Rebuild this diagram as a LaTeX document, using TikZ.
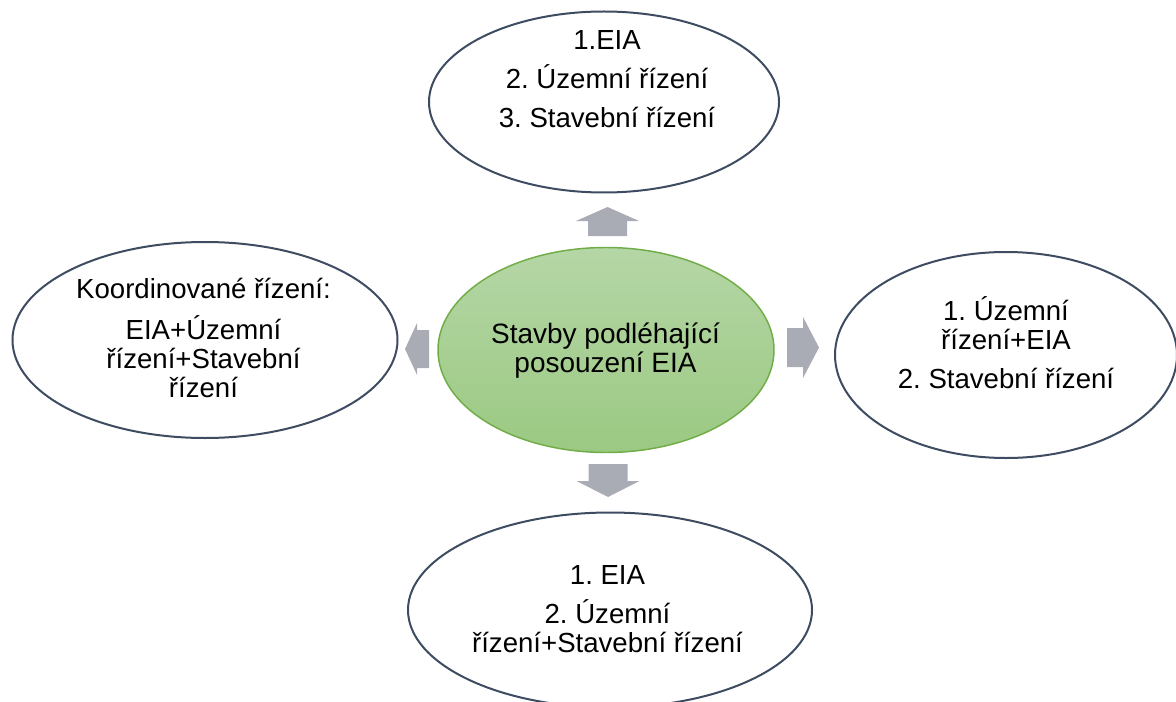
\documentclass[tikz,border=0pt]{standalone}
\usepackage{fontspec}
\setmainfont{Liberation Sans}
\frenchspacing
\usetikzlibrary{shapes.geometric}
\definecolor{ringblue}{HTML}{3E4C61}
\definecolor{hubgreen}{HTML}{70AD47}
\definecolor{hubtop}{HTML}{B5D6A6}
\definecolor{hubbottom}{HTML}{9BC982}
\definecolor{blockgray}{HTML}{A9ACB4}
\tikzset{
    ring/.style={ellipse, draw=ringblue, line width=1.5pt, fill=white, inner sep=0pt},
    hub/.style={ellipse, draw=hubgreen, line width=1.1pt, top color=hubtop, bottom color=hubbottom, inner sep=0pt},
    ringtext/.style={align=center, font=\fontsize{20.7}{21.75}\selectfont, anchor=base, inner sep=0pt},
    hubtext/.style={align=center, font=\fontsize{21}{21.75}\selectfont, anchor=base, inner sep=0pt},
    pointer/.style={fill=blockgray, draw=none}
}

\begin{document}
\begin{tikzpicture}[x=0.75pt, y=-0.75pt]
    \useasboundingbox (0,0) rectangle (1176,702);

    % Ellipse centres
    \coordinate (hubc) at (606,350);
    \coordinate (topc) at (604,102);
    \coordinate (leftc) at (205,340);
    \coordinate (rightc) at (1006,355);
    \coordinate (bottomc) at (610,610);

    % Ellipses
    \node[hub, minimum width=252pt, minimum height=153.75pt] (hub) at (hubc) {};
    \node[ring, minimum width=262.5pt, minimum height=135.75pt] (top) at (topc) {};
    \node[ring, minimum width=288.75pt, minimum height=147pt] (left) at (leftc) {};
    \node[ring, minimum width=256.5pt, minimum height=154.5pt] (right) at (rightc) {};
    \node[ring, minimum width=303pt, minimum height=146.25pt] (bottom) at (bottomc) {};

    % Texts (anchored at the last baseline)
    \node[hubtext] (hubtext) at (605.5,372) {Stavby podléhající\\posouzení EIA};
    \node[ringtext] (toptext) at (607,128) {1.EIA\\[7.5pt]2. Územní řízení\\[7.5pt]3. Stavební řízení};
    \node[ringtext] (lefttext) at (203.5,397) {Koordinované řízení:\\[9pt]EIA+Územní\\řízení+Stavební\\řízení};
    \node[ringtext] (righttext) at (1006,388) {1. Územní\\řízení+EIA\\[7.5pt]2. Stavební řízení};
    \node[ringtext] (bottomtext) at (607.5,652) {1. EIA\\[7.5pt]2. Územní\\řízení+Stavební řízení};

    % Block arrow tips
    \coordinate (uptip) at (607.5,207);
    \coordinate (downtip) at (608,497);
    \coordinate (lefttip) at (405,349);
    \coordinate (righttip) at (819,347.5);

    % Block arrows
    \fill[pointer] (uptip) -- ++(31.5,14) -- ++(-12,0) -- ++(0,15) -- ++(-39,0) -- ++(0,-15) -- ++(-12,0) -- cycle;
    \fill[pointer] (downtip) -- ++(31.5,-16) -- ++(-12,0) -- ++(0,-17) -- ++(-39,0) -- ++(0,17) -- ++(-12,0) -- cycle;
    \fill[pointer] (lefttip) -- ++(12,-26) -- ++(0,7) -- ++(12,0) -- ++(0,38) -- ++(-12,0) -- ++(0,7) -- cycle;
    \fill[pointer] (righttip) -- ++(-16,-30.5) -- ++(0,11) -- ++(-16,0) -- ++(0,39) -- ++(16,0) -- ++(0,11) -- cycle;
\end{tikzpicture}
\end{document}
